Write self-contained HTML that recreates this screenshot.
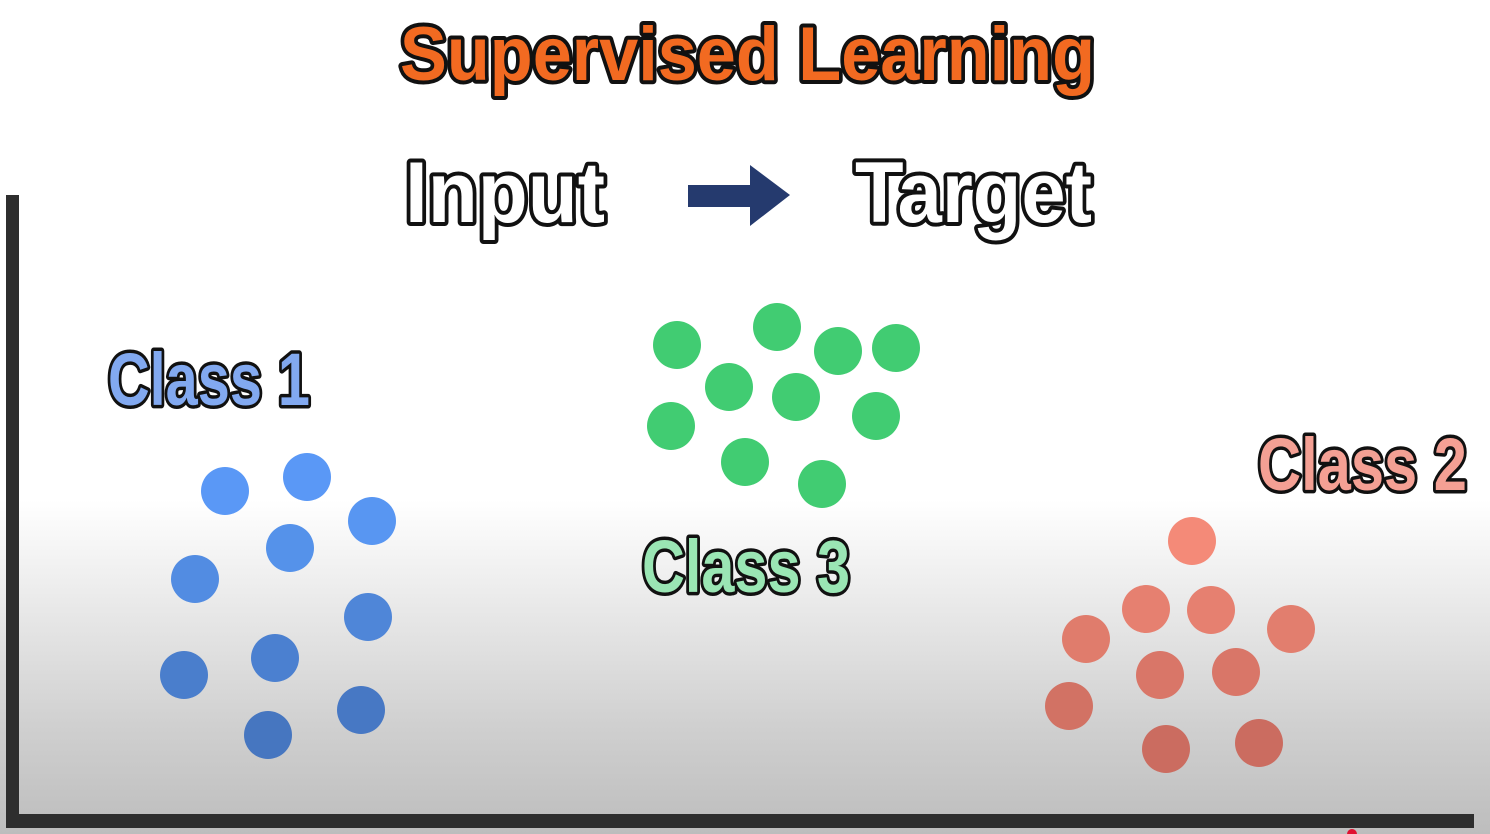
<!DOCTYPE html>
<html><head><style>
html,body{margin:0;padding:0;width:1490px;height:834px;overflow:hidden}
body{background:linear-gradient(to bottom,#fff 0px,#fff 500px,#e6e6e6 620px,#cfcfcf 730px,#bdbdbd 834px)}
svg{position:absolute;left:0;top:0}
text{font-family:"Liberation Sans Narrow","Liberation Sans",sans-serif;font-weight:bold;paint-order:stroke;stroke:#111;stroke-linejoin:round}
</style></head><body>
<svg width="1490" height="834" viewBox="0 0 1490 834">
<rect x="6" y="195" width="13" height="633" fill="#2e2e2e"/>
<rect x="6" y="814" width="1468" height="14" fill="#2e2e2e"/>
<text x="400" y="80" font-size="76" fill="#f26a21" stroke-width="8" textLength="695" lengthAdjust="spacingAndGlyphs">Supervised Learning</text>
<text x="405" y="222" font-size="86" fill="#fff" stroke-width="8" textLength="200" lengthAdjust="spacingAndGlyphs">Input</text>
<text x="855" y="222" font-size="86" fill="#fff" stroke-width="8" textLength="237" lengthAdjust="spacingAndGlyphs">Target</text>
<polygon points="688,185 750,185 750,165 790,195 750,226 750,207 688,207" fill="#253a6e"/>
<text x="108" y="405" font-size="74" fill="#82a9f0" stroke-width="7" textLength="202" lengthAdjust="spacingAndGlyphs">Class 1</text>
<text x="642" y="592" font-size="74" fill="#9ae6b4" stroke-width="7" textLength="208" lengthAdjust="spacingAndGlyphs">Class 3</text>
<text x="1258" y="490" font-size="74" fill="#f4a094" stroke-width="7" textLength="209" lengthAdjust="spacingAndGlyphs">Class 2</text>
<g>
<circle cx="225" cy="491" r="24" fill="#5a98f6"/><circle cx="307" cy="477" r="24" fill="#5a98f6"/>
<circle cx="372" cy="521" r="24" fill="#5896f2"/><circle cx="290" cy="548" r="24" fill="#5592ea"/>
<circle cx="195" cy="579" r="24" fill="#528ce2"/><circle cx="368" cy="617" r="24" fill="#4f86d8"/>
<circle cx="275" cy="658" r="24" fill="#4b80d0"/><circle cx="184" cy="675" r="24" fill="#4a7ecc"/>
<circle cx="361" cy="710" r="24" fill="#4778c4"/><circle cx="268" cy="735" r="24" fill="#4676c0"/>
</g>
<g fill="#41cc72">
<circle cx="677" cy="345" r="24"/><circle cx="777" cy="327" r="24"/><circle cx="838" cy="351" r="24"/>
<circle cx="896" cy="348" r="24"/><circle cx="729" cy="387" r="24"/><circle cx="796" cy="397" r="24"/>
<circle cx="671" cy="426" r="24"/><circle cx="876" cy="416" r="24"/><circle cx="745" cy="462" r="24"/>
<circle cx="822" cy="484" r="24"/>
</g>
<g>
<circle cx="1192" cy="541" r="24" fill="#f48a78"/><circle cx="1146" cy="609" r="24" fill="#e68070"/>
<circle cx="1211" cy="610" r="24" fill="#e68070"/><circle cx="1291" cy="629" r="24" fill="#e27e6e"/>
<circle cx="1086" cy="639" r="24" fill="#e07c6c"/><circle cx="1160" cy="675" r="24" fill="#d97668"/>
<circle cx="1236" cy="672" r="24" fill="#d97668"/><circle cx="1069" cy="706" r="24" fill="#d27264"/>
<circle cx="1166" cy="749" r="24" fill="#cb6c60"/><circle cx="1259" cy="743" r="24" fill="#cb6c60"/>
</g>
<circle cx="1352" cy="834" r="5" fill="#e01030"/>
</svg>
</body></html>
